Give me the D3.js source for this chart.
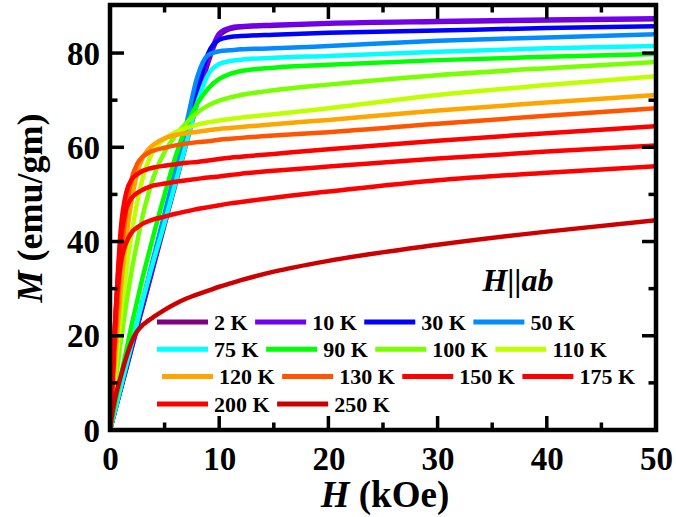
<!DOCTYPE html>
<html>
<head>
<meta charset="utf-8">
<script src="https://cdn.jsdelivr.net/npm/d3@7"></script>
<style>
  body { margin: 0; background: #fff; }
</style>
</head>
<body>
<div id="chart"></div>
<script>
// field grid (kOe), shared by every isotherm
var fieldKOe = [0, 0.25, 0.5, 1, 1.5, 2, 2.5, 3, 3.5, 4, 5, 6, 7, 8, 9, 10, 11, 12, 15, 20, 30, 40, 50];

// magnetization (emu/gm), one array per temperature
var m2K   = [0, 2.2, 4.4, 8.7, 13, 17.4, 21.8, 26.1, 30.4, 34.8, 43.5, 52.2, 60.9, 69.6, 78, 83.6, 85.1, 85.5, 85.8, 86.2, 86.6, 86.9, 87.2];
var m10K  = [0, 2.2, 4.4, 8.8, 13.2, 17.6, 22, 26.4, 30.8, 35.2, 44, 52.8, 61.6, 70.4, 78.8, 84.2, 85.4, 85.7, 86, 86.4, 86.8, 87.1, 87.4];
var m30K  = [0, 2.3, 4.5, 9, 13.5, 18, 22.5, 27, 31.5, 36, 45, 54, 63, 72, 80, 82.8, 83.4, 83.6, 83.9, 84.3, 84.8, 85.3, 85.7];
var m50K  = [0, 2.3, 4.6, 9.2, 13.8, 18.4, 23, 27.6, 32.2, 36.8, 46, 55.2, 65, 75, 79.6, 80.4, 80.6, 80.8, 81, 81.5, 82.6, 83.3, 84];
var m75K  = [0, 2.3, 4.6, 9.2, 13.8, 18.4, 23, 27.5, 31.8, 36, 44, 52.5, 61, 69.5, 75.5, 77.7, 78.3, 78.6, 79, 79.4, 80.3, 81, 81.5];
var m90K  = [0, 3, 6, 11.5, 17, 22.5, 27.5, 32.5, 37, 41.5, 50, 58, 64.5, 69.3, 72.5, 74.5, 75.6, 76.2, 76.9, 77.5, 78.5, 79.2, 79.8];
var m100K = [0, 5, 10, 19, 27, 34, 40, 45.5, 50, 53.8, 59, 62.5, 65.2, 67.4, 68.9, 69.9, 70.6, 71.1, 72.1, 73.3, 75.3, 76.8, 78.1];
var m110K = [0, 6.5, 13, 24.5, 34, 42, 48.5, 53.5, 57, 59.3, 61.8, 63.2, 64.1, 64.8, 65.3, 65.7, 66, 66.3, 67, 68.3, 71.1, 73.2, 75.1];
var m120K = [0, 8, 16, 30, 41, 49, 54.5, 57.8, 59.5, 60.6, 61.9, 62.6, 63, 63.3, 63.6, 63.9, 64.1, 64.3, 64.9, 65.8, 67.8, 69.5, 71.1];
var m130K = [0, 10, 20, 36.5, 47, 53.5, 56.5, 58, 58.8, 59.3, 59.9, 60.4, 60.8, 61.1, 61.3, 61.6, 61.8, 62, 62.5, 63.2, 65, 66.7, 68.3];
var m150K = [0, 12, 24, 43, 50.5, 53.2, 54.3, 55, 55.4, 55.7, 56.1, 56.4, 56.7, 56.9, 57.2, 57.5, 57.8, 58, 58.6, 59.6, 61.4, 63, 64.5];
var m175K = [0, 12, 24, 40.5, 47, 49.3, 50.3, 51, 51.5, 51.9, 52.3, 52.7, 53, 53.3, 53.6, 53.8, 54.1, 54.4, 55, 55.9, 57.6, 59.1, 60.4];
var m200K = [0, 12, 24, 35.5, 39.8, 42, 43, 43.8, 44.3, 44.7, 45.3, 45.9, 46.4, 46.9, 47.3, 47.7, 48.1, 48.4, 49.3, 50.6, 53, 54.6, 56];
var m250K = [0, 4, 7, 11.5, 15.5, 18.8, 21, 22.3, 23.2, 24, 25.5, 26.8, 27.9, 28.8, 29.6, 30.4, 31.1, 31.8, 33.6, 35.9, 39.3, 42.1, 44.5];

var tempLabels = ["2 K", "10 K", "30 K", "50 K", "75 K", "90 K", "100 K", "110 K",
                  "120 K", "130 K", "150 K", "175 K", "200 K", "250 K"];
var curveColors = ["#800080", "#7000f0", "#0000ff", "#008cff", "#00ffff", "#00ff00", "#78ff00",
                   "#c0ff00", "#ffa500", "#ff5500", "#ff0000", "#ff0000", "#ff0000", "#cc0000"];
var allM = [m2K, m10K, m30K, m50K, m75K, m90K, m100K, m110K, m120K, m130K, m150K, m175K, m200K, m250K];

var xTicks = [0, 10, 20, 30, 40, 50];
var xMinor = [5, 15, 25, 35, 45];
var yTicks = [0, 20, 40, 60, 80];
var yMinor = [10, 30, 50, 70];

var FONT = "Liberation Serif";

// layout
var W = 676, H = 517;
var margin = {top: 5, left: 110};
var width = 656 - margin.left,
    height = 430 - margin.top;

var svg = d3.select("#chart").append("svg")
    .attr("width", W)
    .attr("height", H);

var g = svg.append("g")
    .attr("transform", "translate(" + margin.left + "," + margin.top + ")");

var x = d3.scaleLinear().domain([0, 50]).range([0, width]);
var y = d3.scaleLinear().domain([0, 90.2]).range([height, 0]);

g.append("clipPath").attr("id", "plotclip")
  .append("rect").attr("width", width).attr("height", height);

// curves
var line = d3.line()
    .x(function(d) { return x(d[0]); })
    .y(function(d) { return y(d[1]); })
    .curve(d3.curveMonotoneX);

var curves = g.append("g").attr("clip-path", "url(#plotclip)");
allM.forEach(function(ms, i) {
  var pts = fieldKOe.map(function(h, j) { return [h, ms[j]]; });
  curves.append("path")
    .datum(pts)
    .attr("d", line)
    .attr("fill", "none")
    .attr("stroke", curveColors[i])
    .attr("stroke-width", 4.5)
    .attr("stroke-linejoin", "round")
    .attr("stroke-linecap", "round");
});

// ticks pointing inward on all four sides
var ticksG = g.append("g").attr("stroke", "#000").attr("stroke-width", 3.5);
xTicks.concat(xMinor).forEach(function(v) {
  var len = xTicks.indexOf(v) >= 0 ? 14 : 7.5;
  ticksG.append("line").attr("x1", x(v)).attr("x2", x(v)).attr("y1", height).attr("y2", height - len);
  ticksG.append("line").attr("x1", x(v)).attr("x2", x(v)).attr("y1", 0).attr("y2", len);
});
yTicks.concat(yMinor).forEach(function(v) {
  var len = yTicks.indexOf(v) >= 0 ? 14 : 7.5;
  ticksG.append("line").attr("y1", y(v)).attr("y2", y(v)).attr("x1", 0).attr("x2", len);
  ticksG.append("line").attr("y1", y(v)).attr("y2", y(v)).attr("x1", width).attr("x2", width - len);
});

// tick labels through d3 axes (lines hidden)
var xAxis = g.append("g")
    .attr("transform", "translate(0," + height + ")")
    .call(d3.axisBottom(x).tickValues(xTicks).tickSize(0).tickPadding(17).tickFormat(d3.format("d")));
var yAxis = g.append("g")
    .call(d3.axisLeft(y).tickValues(yTicks).tickSize(0).tickPadding(10).tickFormat(d3.format("d")));
[xAxis, yAxis].forEach(function(a) {
  a.attr("font-family", FONT).attr("font-size", 33);
  a.select(".domain").remove();
  a.selectAll("text")
    .attr("font-family", FONT)
    .attr("font-weight", "bold")
    .attr("font-size", 33)
    .attr("fill", "#000");
});
xAxis.selectAll("text").attr("dy", "0.71em");
yAxis.selectAll("text").attr("dy", "0.34em");

// frame
g.append("rect")
  .attr("width", width).attr("height", height)
  .attr("fill", "none").attr("stroke", "#000").attr("stroke-width", 4.5);

// axis titles
var xt = svg.append("text")
    .attr("x", 385).attr("y", 507)
    .attr("text-anchor", "middle")
    .attr("font-family", FONT)
    .attr("font-weight", "bold")
    .attr("font-size", 37);
xt.append("tspan").attr("font-style", "italic").text("H");
xt.append("tspan").text(" (kOe)");

var yt = svg.append("text")
    .attr("transform", "translate(42,208) rotate(-90)")
    .attr("text-anchor", "middle")
    .attr("font-family", FONT)
    .attr("font-weight", "bold")
    .attr("font-size", 36);
yt.append("tspan").attr("font-style", "italic").text("M");
yt.append("tspan").text(" (emu/gm)");

// field direction note
svg.append("text")
  .attr("x", 518).attr("y", 291)
  .attr("text-anchor", "middle")
  .attr("font-family", FONT)
  .attr("font-weight", "bold")
  .attr("font-size", 32)
  .attr("font-style", "italic")
  .text("H||ab");

// legend: 4 per row, flowing left to right
var legRowY = [322, 349.3, 376.6, 404];
var legRowStart = [157, 157, 162, 157];
var legend = svg.append("g");
var cursor = 0, row = -1;
tempLabels.forEach(function(lab, i) {
  if (i % 4 === 0) { row++; cursor = legRowStart[row]; }
  var ly = legRowY[row];
  legend.append("line")
    .attr("x1", cursor).attr("x2", cursor + 51)
    .attr("y1", ly).attr("y2", ly)
    .attr("stroke", curveColors[i]).attr("stroke-width", 5);
  var t = legend.append("text")
    .attr("x", cursor + 57).attr("y", ly + 7.5)
    .attr("font-family", FONT)
    .attr("font-weight", "bold")
    .attr("font-size", 22)
    .text(lab);
  cursor += 57 + t.node().getComputedTextLength() + 7.5;
});
</script>
</body>
</html>
